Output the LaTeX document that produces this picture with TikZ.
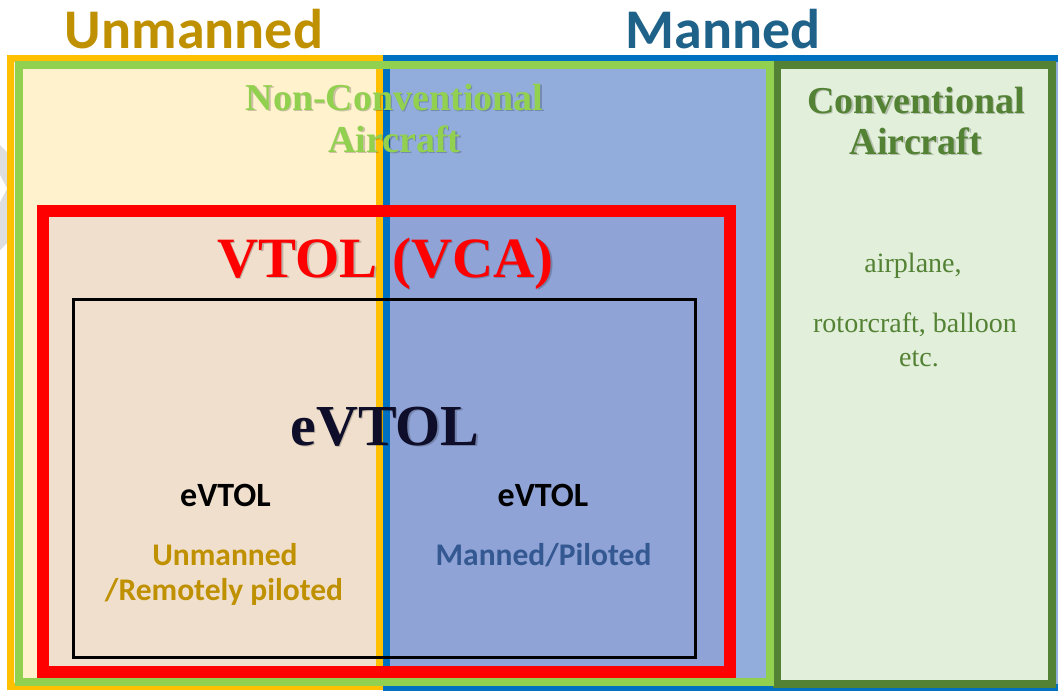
\documentclass[tikz,border=0pt]{standalone}
\usepackage{fontspec}
\setmainfont{Liberation Serif}
\newfontfamily\calfont{Carlito}

\definecolor{gold}{RGB}{191,144,0}
\definecolor{mannedtitle}{RGB}{30,98,138}
\definecolor{orangeline}{RGB}{255,192,0}
\definecolor{creamfill}{RGB}{255,242,204}
\definecolor{blueline}{RGB}{0,112,192}
\definecolor{bluefill}{RGB}{146,173,220}
\definecolor{ncgreen}{RGB}{146,208,80}
\definecolor{convgreen}{RGB}{84,130,53}
\definecolor{convfill}{RGB}{226,239,218}
\definecolor{vtolL}{RGB}{240,223,204}
\definecolor{vtolR}{RGB}{143,163,214}
\definecolor{navy}{RGB}{14,14,42}
\definecolor{pilotblue}{RGB}{52,88,145}
\definecolor{markgray}{RGB}{222,222,222}

\begin{document}
\begin{tikzpicture}[x=1pt,y=-1pt,
  txt/.style={inner sep=0pt,anchor=base},
  shade/.style={inner sep=0pt,anchor=base,text=black,opacity=0.2},
  serifbig/.style={font=\fontsize{38}{40}\selectfont\bfseries},
  serifsmall/.style={font=\fontsize{28}{30}\selectfont},
  sansbig/.style={font=\calfont\fontsize{56}{60}\selectfont\bfseries},
  sansmid/.style={font=\calfont\fontsize{31.5}{34}\selectfont\bfseries}]
\useasboundingbox (0,0) rectangle (1058,691);
\fill[white] (0,0) rectangle (1058,691);

% faint grey mark at the left margin
\fill[markgray] (0,145) -- (7,152) -- (7,243) -- (0,250) -- cycle;
\fill[white] (0,175) -- (7,188.5) -- (0,202) -- cycle;

% region fills
\fill[creamfill] (7,55) rectangle (383,690);
\fill[bluefill] (383,55) rectangle (1064,691);
\fill[vtolL] (43,211) rectangle (383,671.5);
\fill[vtolR] (383,211) rectangle (729.5,671.5);

% unmanned / manned frames
\draw[orangeline,line width=7pt] (10.5,58.5) rectangle (379.5,686.5);
\draw[blueline,line width=7pt] (386.5,58.5) rectangle (1061,687.5);

% conventional aircraft frame
\draw[convgreen,fill=convfill,line width=8pt] (777,65) rectangle (1052,683.5);

% non-conventional aircraft frame
\draw[ncgreen,line width=8pt] (19,65) rectangle (769.5,681.5);

% VTOL frame and eVTOL frame
\draw[red,line width=12pt] (43,211) rectangle (729.5,671.5);
\draw[black,line width=3pt] (73.5,299) rectangle (695,657.5);

% top titles
\node[txt,sansbig,text=gold] (tUn) at (194,48) {Unmanned};
\node[txt,sansbig,text=mannedtitle] (tMan) at (723,48) {Manned};

% non-conventional aircraft
\node[shade,serifbig] (nc1s) at (396,111.5) {Non-Conventional};
\node[shade,serifbig] (nc2s) at (396,153.5) {Aircraft};
\node[txt,serifbig,text=ncgreen] (nc1) at (394.5,110) {Non-Conventional};
\node[txt,serifbig,text=ncgreen] (nc2) at (394.5,152) {Aircraft};

% conventional aircraft
\node[shade,serifbig] (cv1s) at (917.5,114.5) {Conventional};
\node[shade,serifbig] (cv2s) at (917.5,155.5) {Aircraft};
\node[txt,serifbig,text=convgreen] (cv1) at (916,113) {Conventional};
\node[txt,serifbig,text=convgreen] (cv2) at (916,154) {Aircraft};
\node[txt,serifsmall,text=convgreen] (ex1) at (913,272) {airplane,};
\node[txt,serifsmall,text=convgreen] (ex2) at (915,332) {rotorcraft, balloon};
\node[txt,serifsmall,text=convgreen] (ex3) at (919,366) {etc.};

% VTOL (VCA)
\node[shade,font=\fontsize{57}{60}\selectfont\bfseries] (vtols) at (387,278.5) {VTOL (VCA)};
\node[txt,font=\fontsize{57}{60}\selectfont\bfseries,text=red] (vtol) at (385.5,277) {VTOL (VCA)};

% eVTOL
\node[shade,font=\fontsize{58}{60}\selectfont\bfseries] (evs) at (386.5,446.5) {eVTOL};
\node[txt,font=\fontsize{58}{60}\selectfont\bfseries,text=navy] (ev) at (385,445) {eVTOL};

% unmanned / manned eVTOL
\node[txt,sansmid,font=\calfont\fontsize{34}{36}\selectfont\bfseries,text=black] (evL) at (225.5,506) {eVTOL};
\node[txt,sansmid,font=\calfont\fontsize{34}{36}\selectfont\bfseries,text=black] (evR) at (543,506) {eVTOL};
\node[txt,sansmid,text=gold] (unL1) at (225,565) {Unmanned};
\node[txt,sansmid,text=gold] (unL2) at (224,600) {/Remotely piloted};
\node[txt,sansmid,text=pilotblue] (manR) at (543.5,565) {Manned/Piloted};
\end{tikzpicture}
\end{document}
